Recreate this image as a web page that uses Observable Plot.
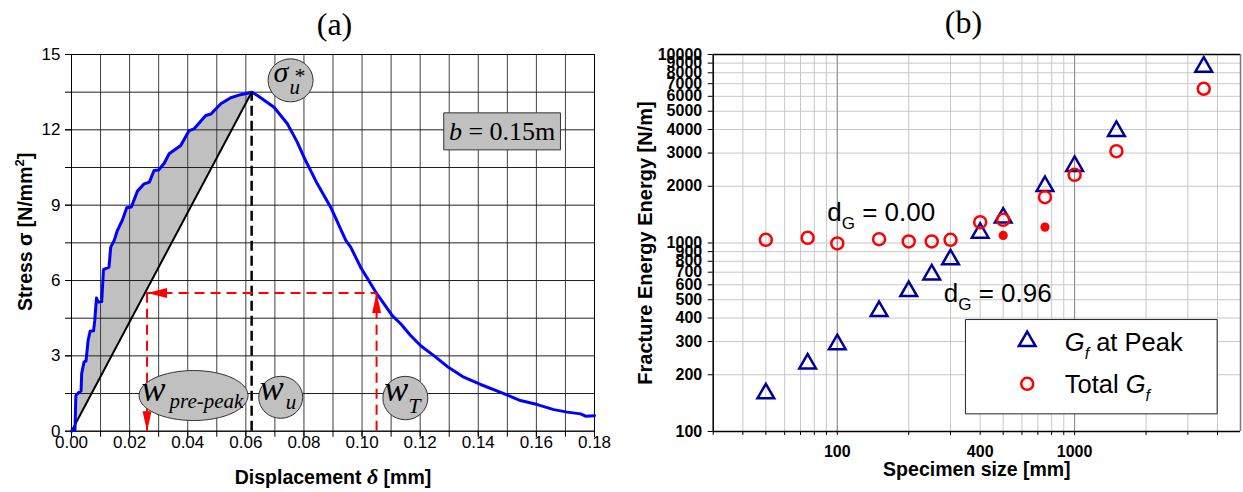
<!DOCTYPE html>
<html>
<head>
<meta charset="utf-8">
<script src="https://cdn.jsdelivr.net/npm/d3@7"></script>
<script src="https://cdn.jsdelivr.net/npm/@observablehq/plot@0.6"></script>
<style>
html,body{margin:0;padding:0;background:#fff;}
#wrap{position:relative;width:1243px;height:492px;overflow:hidden;background:#fff;}
#pa{position:absolute;left:0;top:0;}
#pb{position:absolute;left:620px;top:0;}
</style>
</head>
<body>
<div id="wrap"><div id="pa"></div><div id="pb"></div></div>
<script>
// ================= Panel (a): stress vs displacement =================
const dispA = [0, 0.0012, 0.0015, 0.0026, 0.0033, 0.0035, 0.0043, 0.0050, 0.0057, 0.0064, 0.0076, 0.0080, 0.0086, 0.0092, 0.0104, 0.0110, 0.0129, 0.0135, 0.0147, 0.0158, 0.0175, 0.0190, 0.0206, 0.0227, 0.0250, 0.0268, 0.0284, 0.0300, 0.0319, 0.0336, 0.0376, 0.0405, 0.0422, 0.0462, 0.0480, 0.0514, 0.0548, 0.0582, 0.0620,
  0.0640, 0.0697, 0.0743, 0.0777, 0.0800, 0.0846, 0.0892, 0.0944, 0.0961, 0.0995, 0.1047, 0.1104, 0.1133, 0.1167, 0.1202, 0.1247, 0.1293, 0.1350, 0.1408, 0.1477, 0.1545, 0.1603, 0.1660, 0.1706, 0.1752, 0.1769, 0.1800];
const stressA = [0, 0.05, 1.42, 1.55, 1.6, 2.3, 2.75, 2.8, 3.6, 3.98, 4.0, 4.4, 5.3, 5.14, 5.16, 6.43, 6.53, 7.33, 7.6, 8.0, 8.4, 8.9, 8.93, 9.56, 9.85, 9.92, 10.38, 10.4, 10.67, 11.05, 11.38, 11.97, 12.04, 12.57, 12.63, 13.04, 13.28, 13.4, 13.5,
  13.37, 12.9, 12.24, 11.51, 10.91, 9.85, 8.92, 7.6, 7.33, 6.53, 5.54, 4.6, 4.28, 3.81, 3.4, 3.01, 2.58, 2.15, 1.86, 1.55, 1.22, 1.06, 0.86, 0.76, 0.69, 0.6, 0.62];
const peakA = [0.062, 13.5];              // displacement, stress at peak
const energyLineA = [0.026, 0.105, 5.5];  // left displacement, right displacement, stress level
const xTicksA = [0, 0.02, 0.04, 0.06, 0.08, 0.10, 0.12, 0.14, 0.16, 0.18];
const xGridA = [0, 0.01, 0.02, 0.03, 0.04, 0.05, 0.06, 0.07, 0.08, 0.09, 0.10, 0.11, 0.12, 0.13, 0.14, 0.15, 0.16, 0.17, 0.18];
const yTicksA = [0, 3, 6, 9, 12, 15];
const yGridA = [0, 1.5, 3, 4.5, 6, 7.5, 9, 10.5, 12, 13.5, 15];
const sigmaAnchorA = [0.0754, 13.97];
const wPreAnchorA = [0.0420, 1.42];
const wUAnchorA = [0.0720, 1.35];
const wTAnchorA = [0.1149, 1.32];
const bBoxAnchorA = [0.1482, 11.94];

// ================= Panel (b): fracture energy vs size =================
const sizesB = [50, 75, 100, 150, 200, 250, 300, 400, 500, 750, 1000, 1500, 3500];
const gfPeakB = [159, 229, 290, 435, 555, 680, 818, 1131, 1361, 2002, 2558, 3923, 8600];
const gfTotalB = [1040, 1066, 995, 1048, 1020, 1020, 1040, 1290, 1328, 1750, 2300, 3070, 6580];
const extraSizesB = [500, 750];
const extraGfB = [1097, 1214];
const xDomainB = [30, 5000];
const yDomainB = [100, 10000];
const xLabelTicksB = [100, 400, 1000];
const xGridB = [30, 40, 50, 60, 70, 80, 90, 100, 200, 300, 400, 500, 600, 700, 800, 900, 1000, 2000, 3000, 4000];
const xMajorGridB = [100, 1000];
const yTicksB = [100, 200, 300, 400, 500, 600, 700, 800, 900, 1000, 2000, 3000, 4000, 5000, 6000, 7000, 8000, 9000, 10000];
const dG0AnchorB = [90.7, 1315];
const dG96AnchorB = [281, 485];

// ---------------- helpers ----------------
const SANS = '"Liberation Sans", Arial, Helvetica, sans-serif';
const SERIF = '"Liberation Serif", "Times New Roman", Times, serif';
function ellipseSym(rx, ry) {
  const k = 0.5523;
  return {draw(c) {
    c.moveTo(rx, 0);
    c.bezierCurveTo(rx, ry * k, rx * k, ry, 0, ry);
    c.bezierCurveTo(-rx * k, ry, -rx, ry * k, -rx, 0);
    c.bezierCurveTo(-rx, -ry * k, -rx * k, -ry, 0, -ry);
    c.bezierCurveTo(rx * k, -ry, rx, -ry * k, rx, 0);
    c.closePath();
  }};
}
function rectSym(w, h) {
  return {draw(c) {
    c.moveTo(-w / 2, -h / 2); c.lineTo(w / 2, -h / 2); c.lineTo(w / 2, h / 2); c.lineTo(-w / 2, h / 2); c.closePath();
  }};
}
function arrowSym(len, wid) {
  return {draw(c) { c.moveTo(0, 0); c.lineTo(wid / 2, len); c.lineTo(-wid / 2, len); c.closePath(); }};
}
// replace a text element (found by its content) with styled tspans
function setRich(svg, content, parts) {
  const t = d3.select(svg).selectAll("text").filter(function() { return this.textContent === content; });
  if (t.empty()) return;
  t.text(null);
  for (const [str, attrs] of parts) {
    const s = t.append("tspan").text(str);
    if (attrs) for (const [k, v] of Object.entries(attrs)) s.attr(k, v);
  }
}
const ax = d => d[0], ay = d => d[1];

// ---------------- Panel (a) ----------------
const curveA = dispA.map((x, i) => ({x, y: stressA[i]}));
const preA = curveA.filter(d => d.x <= peakA[0]);
const peakPt = {x: peakA[0], y: peakA[1]};
const redA = [{x1: energyLineA[0], x2: energyLineA[1], y: energyLineA[2]}];

const plotA = Plot.plot({
  width: 620, height: 492,
  marginLeft: 71, marginRight: 26, marginTop: 54, marginBottom: 61.3,
  style: {fontFamily: SANS, fontSize: "17px", color: "#000", background: "transparent"},
  x: {domain: [0, 0.18]},
  y: {domain: [0, 15]},
  marks: [
    Plot.areaY(preA, {x: "x", y1: d => d.x * peakA[1] / peakA[0], y2: "y", fill: "#C0C0C0"}),
    Plot.gridX({ticks: xGridA, stroke: "#404040", strokeOpacity: 1, strokeWidth: 1}),
    Plot.gridY({ticks: yGridA, stroke: "#202020", strokeOpacity: 1, strokeWidth: 1}),
    Plot.frame({stroke: "#000", strokeWidth: 1}),
    Plot.axisX({ticks: xGridA, tickSize: 6, tickFormat: () => "", label: null}),
    Plot.axisX({ticks: xTicksA, tickSize: 6, tickPadding: -1, tickFormat: d3.format(".2f"), label: null, fontSize: 17}),
    Plot.axisY({ticks: yGridA, tickSize: 6, tickFormat: () => "", label: null}),
    Plot.axisY({ticks: yTicksA, tickSize: 6, tickPadding: 5, tickFormat: d => String(d), label: null, fontSize: 17}),
    Plot.line([curveA[0], peakPt], {x: "x", y: "y", stroke: "#000", strokeWidth: 2}),
    Plot.line(curveA, {x: "x", y: "y", stroke: "#0000FF", strokeWidth: 3, strokeLinejoin: "round"}),
    Plot.ruleX([peakPt], {x: "x", y1: 0, y2: "y", stroke: "#000", strokeWidth: 2.5, strokeDasharray: "10,5"}),
    Plot.ruleY(redA, {x1: "x1", x2: "x2", y: "y", stroke: "#FF0000", strokeWidth: 2, strokeDasharray: "10,6"}),
    Plot.ruleX(redA, {x: "x1", y1: 0, y2: "y", stroke: "#FF0000", strokeWidth: 2, strokeDasharray: "10,6"}),
    Plot.ruleX(redA, {x: "x2", y1: 0, y2: "y", stroke: "#FF0000", strokeWidth: 2, strokeDasharray: "10,6"}),
    // ellipses and box
    Plot.dot([sigmaAnchorA], {x: ax, y: ay, r: 1, symbol: ellipseSym(22.5, 21.5), fill: "#C0C0C0", stroke: "#333", strokeWidth: 1}),
    Plot.dot([wPreAnchorA], {x: ax, y: ay, r: 1, symbol: ellipseSym(54.5, 25), fill: "#C0C0C0", stroke: "#333", strokeWidth: 1}),
    Plot.dot([wUAnchorA], {x: ax, y: ay, r: 1, symbol: ellipseSym(22, 21), fill: "#C0C0C0", stroke: "#333", strokeWidth: 1}),
    Plot.dot([wTAnchorA], {x: ax, y: ay, r: 1, symbol: ellipseSym(22.5, 21.7), fill: "#C0C0C0", stroke: "#333", strokeWidth: 1}),
    Plot.dot([bBoxAnchorA], {x: ax, y: ay, r: 1, symbol: rectSym(116.7, 37), fill: "#C0C0C0", stroke: "#333", strokeWidth: 1}),
    // arrowheads
    Plot.dot(redA, {x: "x1", y: "y", r: 1, symbol: arrowSym(20, 10), rotate: -90, fill: "#FF0000", stroke: "none"}),
    Plot.dot(redA, {x: "x2", y: "y", r: 1, symbol: arrowSym(20, 9), rotate: 0, fill: "#FF0000", stroke: "none"}),
    Plot.dot(redA, {x: "x1", y: 0, r: 1, symbol: arrowSym(20, 9), rotate: 180, fill: "#FF0000", stroke: "none"}),
    // annotation texts
    Plot.text([sigmaAnchorA], {x: ax, y: ay, text: () => "σ", fontFamily: SERIF, fontStyle: "italic", fontSize: 30, textAnchor: "start", lineAnchor: "bottom", dx: -17, dy: 2}),
    Plot.text([sigmaAnchorA], {x: ax, y: ay, text: () => "*", fontFamily: SERIF, fontStyle: "italic", fontSize: 22, textAnchor: "start", lineAnchor: "bottom", dx: 3, dy: 3}),
    Plot.text([sigmaAnchorA], {x: ax, y: ay, text: () => "u", fontFamily: SERIF, fontStyle: "italic", fontSize: 21, textAnchor: "start", lineAnchor: "bottom", dx: -1, dy: 14}),
    Plot.text([wPreAnchorA], {x: ax, y: ay, text: () => "w", fontFamily: SERIF, fontStyle: "italic", fontSize: 36, textAnchor: "start", lineAnchor: "bottom", dx: -52, dy: 5}),
    Plot.text([wPreAnchorA], {x: ax, y: ay, text: () => "pre-peak", fontFamily: SERIF, fontStyle: "italic", fontSize: 21, textAnchor: "start", lineAnchor: "bottom", dx: -24, dy: 12}),
    Plot.text([wUAnchorA], {x: ax, y: ay, text: () => "w", fontFamily: SERIF, fontStyle: "italic", fontSize: 36, textAnchor: "start", lineAnchor: "bottom", dx: -21, dy: 3}),
    Plot.text([wUAnchorA], {x: ax, y: ay, text: () => "u", fontFamily: SERIF, fontStyle: "italic", fontSize: 21, textAnchor: "start", lineAnchor: "bottom", dx: 5, dy: 12}),
    Plot.text([wTAnchorA], {x: ax, y: ay, text: () => "w", fontFamily: SERIF, fontStyle: "italic", fontSize: 36, textAnchor: "start", lineAnchor: "bottom", dx: -21, dy: 2.5}),
    Plot.text([wTAnchorA], {x: ax, y: ay, text: () => "T", fontFamily: SERIF, fontStyle: "italic", fontSize: 22, textAnchor: "start", lineAnchor: "bottom", dx: 3, dy: 15}),
    Plot.text([bBoxAnchorA], {x: ax, y: ay, text: () => "b = 0.15m", fontFamily: SERIF, fontSize: 26, textAnchor: "middle", lineAnchor: "bottom", dy: 8.5}),
    // titles and axis labels
    Plot.text([0], {frameAnchor: "top", text: () => "(a)", fontFamily: SERIF, fontSize: 32, textAnchor: "middle", lineAnchor: "bottom", dx: 1.5, dy: -20}),
    Plot.text([0], {frameAnchor: "bottom", text: () => "Displacement δ [mm]", fontWeight: "bold", fontSize: 19.5, textAnchor: "middle", lineAnchor: "middle", dy: 47}),
    Plot.text([0], {frameAnchor: "left", text: () => "Stress σ [N/mm2]", fontWeight: "bold", fontSize: 19.5, rotate: -90, textAnchor: "middle", lineAnchor: "middle", dx: -46, dy: -11})
  ]
});
document.getElementById("pa").append(plotA);
setRich(plotA, "b = 0.15m", [["b", {"font-style": "italic"}], [" = 0.15m"]]);
setRich(plotA, "Displacement δ [mm]", [["Displacement "], ["δ", {"font-style": "italic", "font-family": SERIF, "font-size": 22}], [" [mm]"]]);
setRich(plotA, "Stress σ [N/mm2]", [["Stress σ [N/mm"], ["2", {"font-size": 13, "dy": -8}], ["]", {"dy": 8}]]);

// ---------------- Panel (b) ----------------
const peakRows = sizesB.map((s, i) => ({s, v: gfPeakB[i]}));
const totalRows = sizesB.map((s, i) => ({s, v: gfTotalB[i]}));
const extraRows = extraSizesB.map((s, i) => ({s, v: extraGfB[i]}));

const plotB = Plot.plot({
  width: 623, height: 492,
  marginLeft: 92.7, marginRight: 3, marginTop: 54, marginBottom: 61,
  style: {fontFamily: SANS, fontSize: "16px", color: "#000", background: "transparent"},
  x: {type: "log", domain: xDomainB},
  y: {type: "log", domain: yDomainB},
  marks: [
    Plot.gridY({ticks: yTicksB, stroke: "#C8C8C8", strokeOpacity: 1, strokeWidth: 1}),
    Plot.gridX({ticks: xGridB, stroke: "#C8C8C8", strokeOpacity: 1, strokeWidth: 1}),
    Plot.gridX({ticks: xMajorGridB, stroke: "#8A8A8A", strokeOpacity: 1, strokeWidth: 1}),
    Plot.ruleY([yDomainB[1]], {stroke: "#000", strokeWidth: 1.5}),
    Plot.ruleX([xDomainB[1]], {stroke: "#777", strokeWidth: 1.5}),
    Plot.ruleX([xDomainB[0]], {stroke: "#000", strokeWidth: 1.5}),
    Plot.ruleY([yDomainB[0]], {stroke: "#000", strokeWidth: 1.5}),
    Plot.axisX({ticks: xGridB, tickSize: 4, tickFormat: () => "", label: null}),
    Plot.axisY({ticks: yTicksB, tickSize: 5, tickFormat: () => "", label: null}),
    // tick labels as text marks (log axes thin out labels otherwise)
    Plot.text(xLabelTicksB, {x: d => d, frameAnchor: "bottom", text: d => String(d), fontWeight: "bold", fontSize: 16, textAnchor: "middle", lineAnchor: "top", dy: 14}),
    Plot.text(yTicksB, {y: d => d, frameAnchor: "left", text: d => String(d), fontWeight: "bold", fontSize: 16, textAnchor: "end", lineAnchor: "middle", dx: -11}),
    Plot.dot(peakRows, {x: "s", y: "v", symbol: "triangle", r: 6.2, stroke: "#000099", strokeWidth: 2.5, fill: "none"}),
    Plot.dot(totalRows, {x: "s", y: "v", symbol: "circle", r: 6, stroke: "#FF0000", strokeWidth: 2.5, fill: "none"}),
    Plot.dot(extraRows, {x: "s", y: "v", r: 4.6, fill: "#FF0000", stroke: "none"}),
    Plot.text([dG0AnchorB], {x: ax, y: ay, text: () => "dG = 0.00", fontSize: 26, textAnchor: "start", lineAnchor: "bottom"}),
    Plot.text([dG96AnchorB], {x: ax, y: ay, text: () => "dG = 0.96", fontSize: 26, textAnchor: "start", lineAnchor: "bottom"}),
    // legend
    Plot.dot([0], {frameAnchor: "bottom-right", dx: -149.2, dy: -64.8, r: 1, symbol: rectSym(251.7, 94.3), fill: "#fff", stroke: "#222", strokeWidth: 1}),
    Plot.dot([0], {frameAnchor: "bottom-right", dx: -213.3, dy: -90.3, symbol: "triangle", r: 6.2, stroke: "#000099", strokeWidth: 2.5, fill: "none"}),
    Plot.dot([0], {frameAnchor: "bottom-right", dx: -213.3, dy: -47.7, symbol: "circle", r: 6, stroke: "#FF0000", strokeWidth: 2.5, fill: "none"}),
    Plot.text([0], {frameAnchor: "bottom-right", dx: -175.7, dy: -81, text: () => "Gf at Peak", fontSize: 25.5, textAnchor: "start", lineAnchor: "bottom"}),
    Plot.text([0], {frameAnchor: "bottom-right", dx: -175.7, dy: -38.3, text: () => "Total Gf", fontSize: 25.5, textAnchor: "start", lineAnchor: "bottom"}),
    // titles and axis labels
    Plot.text([0], {frameAnchor: "top", text: () => "(b)", fontFamily: SERIF, fontSize: 32, textAnchor: "middle", lineAnchor: "bottom", dx: -13.4, dy: -22}),
    Plot.text([0], {frameAnchor: "bottom", text: () => "Specimen size [mm]", fontWeight: "bold", fontSize: 19.5, textAnchor: "middle", lineAnchor: "middle", dy: 38}),
    Plot.text([0], {frameAnchor: "left", text: () => "Fracture Energy Energy [N/m]", fontWeight: "bold", fontSize: 20, rotate: -90, textAnchor: "middle", lineAnchor: "middle", dx: -67.7})
  ]
});
document.getElementById("pb").append(plotB);
setRich(plotB, "dG = 0.00", [["d"], ["G", {"font-size": 17, "dy": 8}], [" = 0.00", {"dy": -8}]]);
setRich(plotB, "dG = 0.96", [["d"], ["G", {"font-size": 17, "dy": 8}], [" = 0.96", {"dy": -8}]]);
setRich(plotB, "Gf at Peak", [["G", {"font-style": "italic"}], ["f", {"font-style": "italic", "font-size": 16, "dy": 8}], [" at Peak", {"dy": -8}]]);
setRich(plotB, "Total Gf", [["Total "], ["G", {"font-style": "italic"}], ["f", {"font-style": "italic", "font-size": 16, "dy": 8}]]);
</script>
</body>
</html>
